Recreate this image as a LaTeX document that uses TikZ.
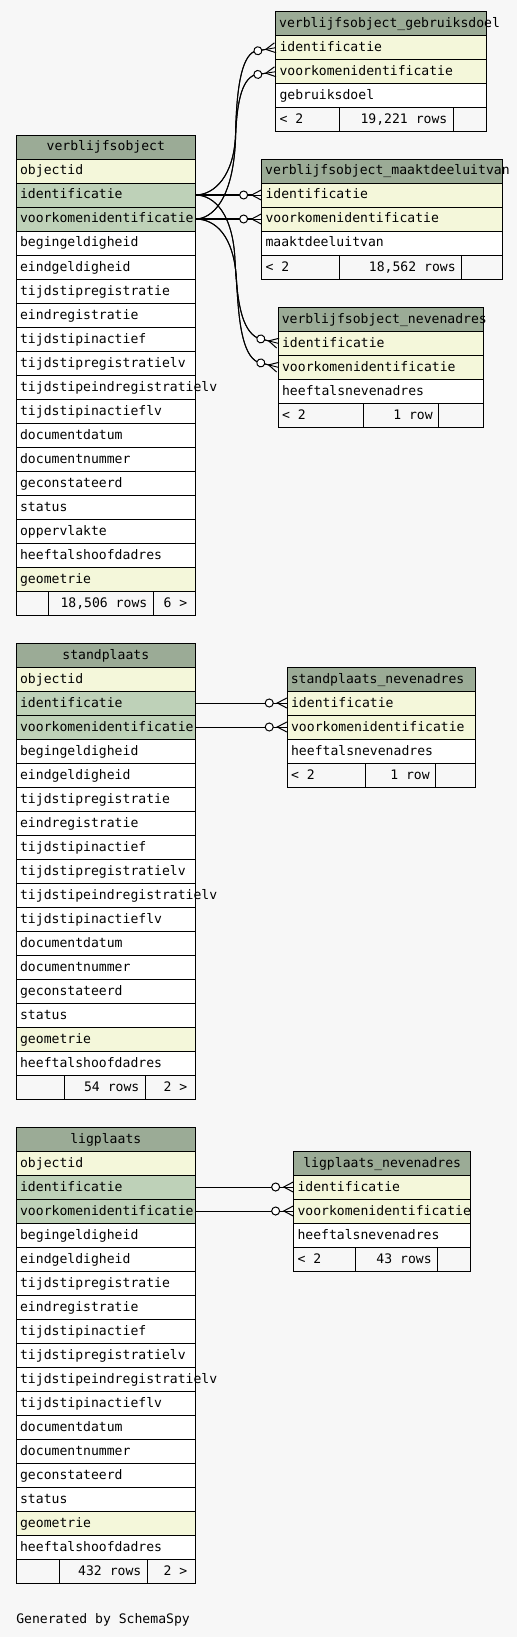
\documentclass[tikz,border=0pt]{standalone}
\usepackage{fontspec}
\newfontfamily\erdmono{DejaVu Sans Mono}
\usetikzlibrary{arrows.meta,calc}
\definecolor{bgc}{HTML}{F7F7F7}
\definecolor{hdrc}{HTML}{9BAB96}
\definecolor{pkc}{HTML}{BED1B8}
\definecolor{idxc}{HTML}{F4F7DA}
\newcommand\erdhdrC[5]{%
  \node[cell,fill=hdrc,minimum width=#4pt] (#1) at (#2,#3) {};
  \node[lbl,anchor=base] (#1-t) at ([yshift=-16pt]#1.north) {#5};}
\newcommand\erdhdrL[5]{%
  \node[cell,fill=hdrc,minimum width=#4pt] (#1) at (#2,#3) {};
  \node[lbl,anchor=base west] (#1-t) at ([xshift=3.5pt,yshift=-16pt]#1.north west) {#5};}
\newcommand\erdfld[6]{%
  \node[cell,fill=#5,minimum width=#4pt] (#1) at (#2,#3) {};
  \node[lbl,anchor=base west] (#1-t) at ([xshift=3.8pt,yshift=-16pt]#1.north west) {#6};}
\newcommand\erdftr[9]{%
  \node[cell,fill=bgc,minimum width=#4pt] (#1) at (#2,#3) {};
  \draw[line width=0.9pt] (#5,#3) -- (#5,#3+24) (#6,#3) -- (#6,#3+24);
  \node[lbl,anchor=base west] (#1-l) at ([xshift=3.8pt,yshift=-16pt]#1.north west) {#7};
  \node[lbl,anchor=base east] (#1-m) at (#6-6,#3+16) {#8};
  \node[lbl,anchor=base east] (#1-r) at ([xshift=-8pt,yshift=-16pt]#1.north east) {#9};}
\begin{document}
\begin{tikzpicture}[x=1pt,y=-1pt,
  cell/.style={draw=black,line width=0.9pt,rectangle,minimum height=24pt,inner sep=0pt,outer sep=0pt,anchor=north west},
  lbl/.style={inner sep=0pt,outer sep=0pt,font=\erdmono\fontsize{13.1pt}{15pt}\selectfont},
  fk/.style={draw=black,line width=0.9pt,
    postaction={draw=black,line width=1pt,
      -{Circle[fill=white,length=9pt,width=9pt,sep=2.5pt]Straight Barb[reversed,length=9.5pt,width=10pt]}}}]
\useasboundingbox (0,0) rectangle (517,1637);
\fill[bgc] (0,0) rectangle (517,1637);

% ---------- verblijfsobject ----------
\erdhdrC{vo}{16.3}{135}{179}{verblijfsobject}
\erdfld{vo-oid}{16.3}{159}{179}{idxc}{objectid}
\erdfld{vo-id}{16.3}{183}{179}{pkc}{identificatie}
\erdfld{vo-vk}{16.3}{207}{179}{pkc}{voorkomenidentificatie}
\erdfld{vo-r4}{16.3}{231}{179}{white}{begingeldigheid}
\erdfld{vo-r5}{16.3}{255}{179}{white}{eindgeldigheid}
\erdfld{vo-r6}{16.3}{279}{179}{white}{tijdstipregistratie}
\erdfld{vo-r7}{16.3}{303}{179}{white}{eindregistratie}
\erdfld{vo-r8}{16.3}{327}{179}{white}{tijdstipinactief}
\erdfld{vo-r9}{16.3}{351}{179}{white}{tijdstipregistratielv}
\erdfld{vo-r10}{16.3}{375}{179}{white}{tijdstipeindregistratielv}
\erdfld{vo-r11}{16.3}{399}{179}{white}{tijdstipinactieflv}
\erdfld{vo-r12}{16.3}{423}{179}{white}{documentdatum}
\erdfld{vo-r13}{16.3}{447}{179}{white}{documentnummer}
\erdfld{vo-r14}{16.3}{471}{179}{white}{geconstateerd}
\erdfld{vo-r15}{16.3}{495}{179}{white}{status}
\erdfld{vo-r16}{16.3}{519}{179}{white}{oppervlakte}
\erdfld{vo-r17}{16.3}{543}{179}{white}{heeftalshoofdadres}
\erdfld{vo-r18}{16.3}{567}{179}{idxc}{geometrie}
\erdftr{vo-f}{16.3}{591}{179}{48.3}{153.3}{}{18,506 rows}{6 >}

% ---------- verblijfsobject_gebruiksdoel ----------
\erdhdrL{gd}{275.7}{11.7}{211}{verblijfsobject\_gebruiksdoel}
\erdfld{gd-id}{275.7}{35.7}{211}{idxc}{identificatie}
\erdfld{gd-vk}{275.7}{59.7}{211}{idxc}{voorkomenidentificatie}
\erdfld{gd-r3}{275.7}{83.7}{211}{white}{gebruiksdoel}
\erdftr{gd-f}{275.7}{107.7}{211}{339.3}{453.3}{< 2}{19,221 rows}{}

% ---------- verblijfsobject_maaktdeeluitvan ----------
\erdhdrL{mdu}{261.7}{159}{240.6}{verblijfsobject\_maaktdeeluitvan}
\erdfld{mdu-id}{261.7}{183}{240.6}{idxc}{identificatie}
\erdfld{mdu-vk}{261.7}{207}{240.6}{idxc}{voorkomenidentificatie}
\erdfld{mdu-r3}{261.7}{231}{240.6}{white}{maaktdeeluitvan}
\erdftr{mdu-f}{261.7}{255}{240.6}{339.7}{461.7}{< 2}{18,562 rows}{}

% ---------- verblijfsobject_nevenadres ----------
\erdhdrL{nev}{278.3}{307.3}{205}{verblijfsobject\_nevenadres}
\erdfld{nev-id}{278.3}{331.3}{205}{idxc}{identificatie}
\erdfld{nev-vk}{278.3}{355.3}{205}{idxc}{voorkomenidentificatie}
\erdfld{nev-r3}{278.3}{379.3}{205}{white}{heeftalsnevenadres}
\erdftr{nev-f}{278.3}{403.3}{205}{363.7}{438.7}{< 2}{1 row}{}

% ---------- standplaats ----------
\erdhdrC{sp}{16.3}{643}{179}{standplaats}
\erdfld{sp-oid}{16.3}{667}{179}{idxc}{objectid}
\erdfld{sp-id}{16.3}{691}{179}{pkc}{identificatie}
\erdfld{sp-vk}{16.3}{715}{179}{pkc}{voorkomenidentificatie}
\erdfld{sp-r4}{16.3}{739}{179}{white}{begingeldigheid}
\erdfld{sp-r5}{16.3}{763}{179}{white}{eindgeldigheid}
\erdfld{sp-r6}{16.3}{787}{179}{white}{tijdstipregistratie}
\erdfld{sp-r7}{16.3}{811}{179}{white}{eindregistratie}
\erdfld{sp-r8}{16.3}{835}{179}{white}{tijdstipinactief}
\erdfld{sp-r9}{16.3}{859}{179}{white}{tijdstipregistratielv}
\erdfld{sp-r10}{16.3}{883}{179}{white}{tijdstipeindregistratielv}
\erdfld{sp-r11}{16.3}{907}{179}{white}{tijdstipinactieflv}
\erdfld{sp-r12}{16.3}{931}{179}{white}{documentdatum}
\erdfld{sp-r13}{16.3}{955}{179}{white}{documentnummer}
\erdfld{sp-r14}{16.3}{979}{179}{white}{geconstateerd}
\erdfld{sp-r15}{16.3}{1003}{179}{white}{status}
\erdfld{sp-r16}{16.3}{1027}{179}{idxc}{geometrie}
\erdfld{sp-r17}{16.3}{1051}{179}{white}{heeftalshoofdadres}
\erdftr{sp-f}{16.3}{1075}{179}{64.3}{145.3}{}{54 rows}{2 >}

% ---------- standplaats_nevenadres ----------
\erdhdrL{spn}{287.3}{667}{188}{standplaats\_nevenadres}
\erdfld{spn-id}{287.3}{691}{188}{idxc}{identificatie}
\erdfld{spn-vk}{287.3}{715}{188}{idxc}{voorkomenidentificatie}
\erdfld{spn-r3}{287.3}{739}{188}{white}{heeftalsnevenadres}
\erdftr{spn-f}{287.3}{763}{188}{365.3}{435.7}{< 2}{1 row}{}

% ---------- ligplaats ----------
\erdhdrC{lp}{16.3}{1127}{179}{ligplaats}
\erdfld{lp-oid}{16.3}{1151}{179}{idxc}{objectid}
\erdfld{lp-id}{16.3}{1175}{179}{pkc}{identificatie}
\erdfld{lp-vk}{16.3}{1199}{179}{pkc}{voorkomenidentificatie}
\erdfld{lp-r4}{16.3}{1223}{179}{white}{begingeldigheid}
\erdfld{lp-r5}{16.3}{1247}{179}{white}{eindgeldigheid}
\erdfld{lp-r6}{16.3}{1271}{179}{white}{tijdstipregistratie}
\erdfld{lp-r7}{16.3}{1295}{179}{white}{eindregistratie}
\erdfld{lp-r8}{16.3}{1319}{179}{white}{tijdstipinactief}
\erdfld{lp-r9}{16.3}{1343}{179}{white}{tijdstipregistratielv}
\erdfld{lp-r10}{16.3}{1367}{179}{white}{tijdstipeindregistratielv}
\erdfld{lp-r11}{16.3}{1391}{179}{white}{tijdstipinactieflv}
\erdfld{lp-r12}{16.3}{1415}{179}{white}{documentdatum}
\erdfld{lp-r13}{16.3}{1439}{179}{white}{documentnummer}
\erdfld{lp-r14}{16.3}{1463}{179}{white}{geconstateerd}
\erdfld{lp-r15}{16.3}{1487}{179}{white}{status}
\erdfld{lp-r16}{16.3}{1511}{179}{idxc}{geometrie}
\erdfld{lp-r17}{16.3}{1535}{179}{white}{heeftalshoofdadres}
\erdftr{lp-f}{16.3}{1559}{179}{59.3}{147.3}{}{432 rows}{2 >}

% ---------- ligplaats_nevenadres ----------
\erdhdrC{lpn}{293.7}{1151}{177}{ligplaats\_nevenadres}
\erdfld{lpn-id}{293.7}{1175}{177}{idxc}{identificatie}
\erdfld{lpn-vk}{293.7}{1199}{177}{idxc}{voorkomenidentificatie}
\erdfld{lpn-r3}{293.7}{1223}{177}{white}{heeftalsnevenadres}
\erdftr{lpn-f}{293.7}{1247}{177}{355.3}{437.7}{< 2}{43 rows}{}

% ---------- connectors ----------
\draw[fk] (vo-id.east) .. controls (215,195) and (234,175) .. (235.5,135)
  .. controls (236.5,90) and (241,57) .. ($(gd-id.west)+(-21,3.6)$) -- (gd-id.west);
\draw[fk] (vo-vk.east) .. controls (212,219) and (233,200) .. (235.5,140)
  .. controls (236.5,105) and (241,80) .. ($(gd-vk.west)+(-21,3.2)$) -- (gd-vk.west);
\draw[fk] (vo-id.east) -- (mdu-id.west);
\draw[fk] (vo-vk.east) -- (mdu-vk.west);
\draw[fk] (vo-id.east) .. controls (215,195) and (233,215) .. (235,260)
  .. controls (237,300) and (241,330) .. ($(nev-id.west)+(-20.4,-5.1)$) -- (nev-id.west);
\draw[fk] (vo-vk.east) .. controls (215,219) and (234,235) .. (236.5,280)
  .. controls (238.5,320) and (242,355) .. ($(nev-vk.west)+(-20.4,-5.1)$) -- (nev-vk.west);
\draw[fk] (sp-id.east) -- (spn-id.west);
\draw[fk] (sp-vk.east) -- (spn-vk.west);
\draw[fk] (lp-id.east) -- (lpn-id.west);
\draw[fk] (lp-vk.east) -- (lpn-vk.west);

\node[lbl,anchor=base west] (gen) at (16.3,1623) {Generated by SchemaSpy};
\end{tikzpicture}
\end{document}
